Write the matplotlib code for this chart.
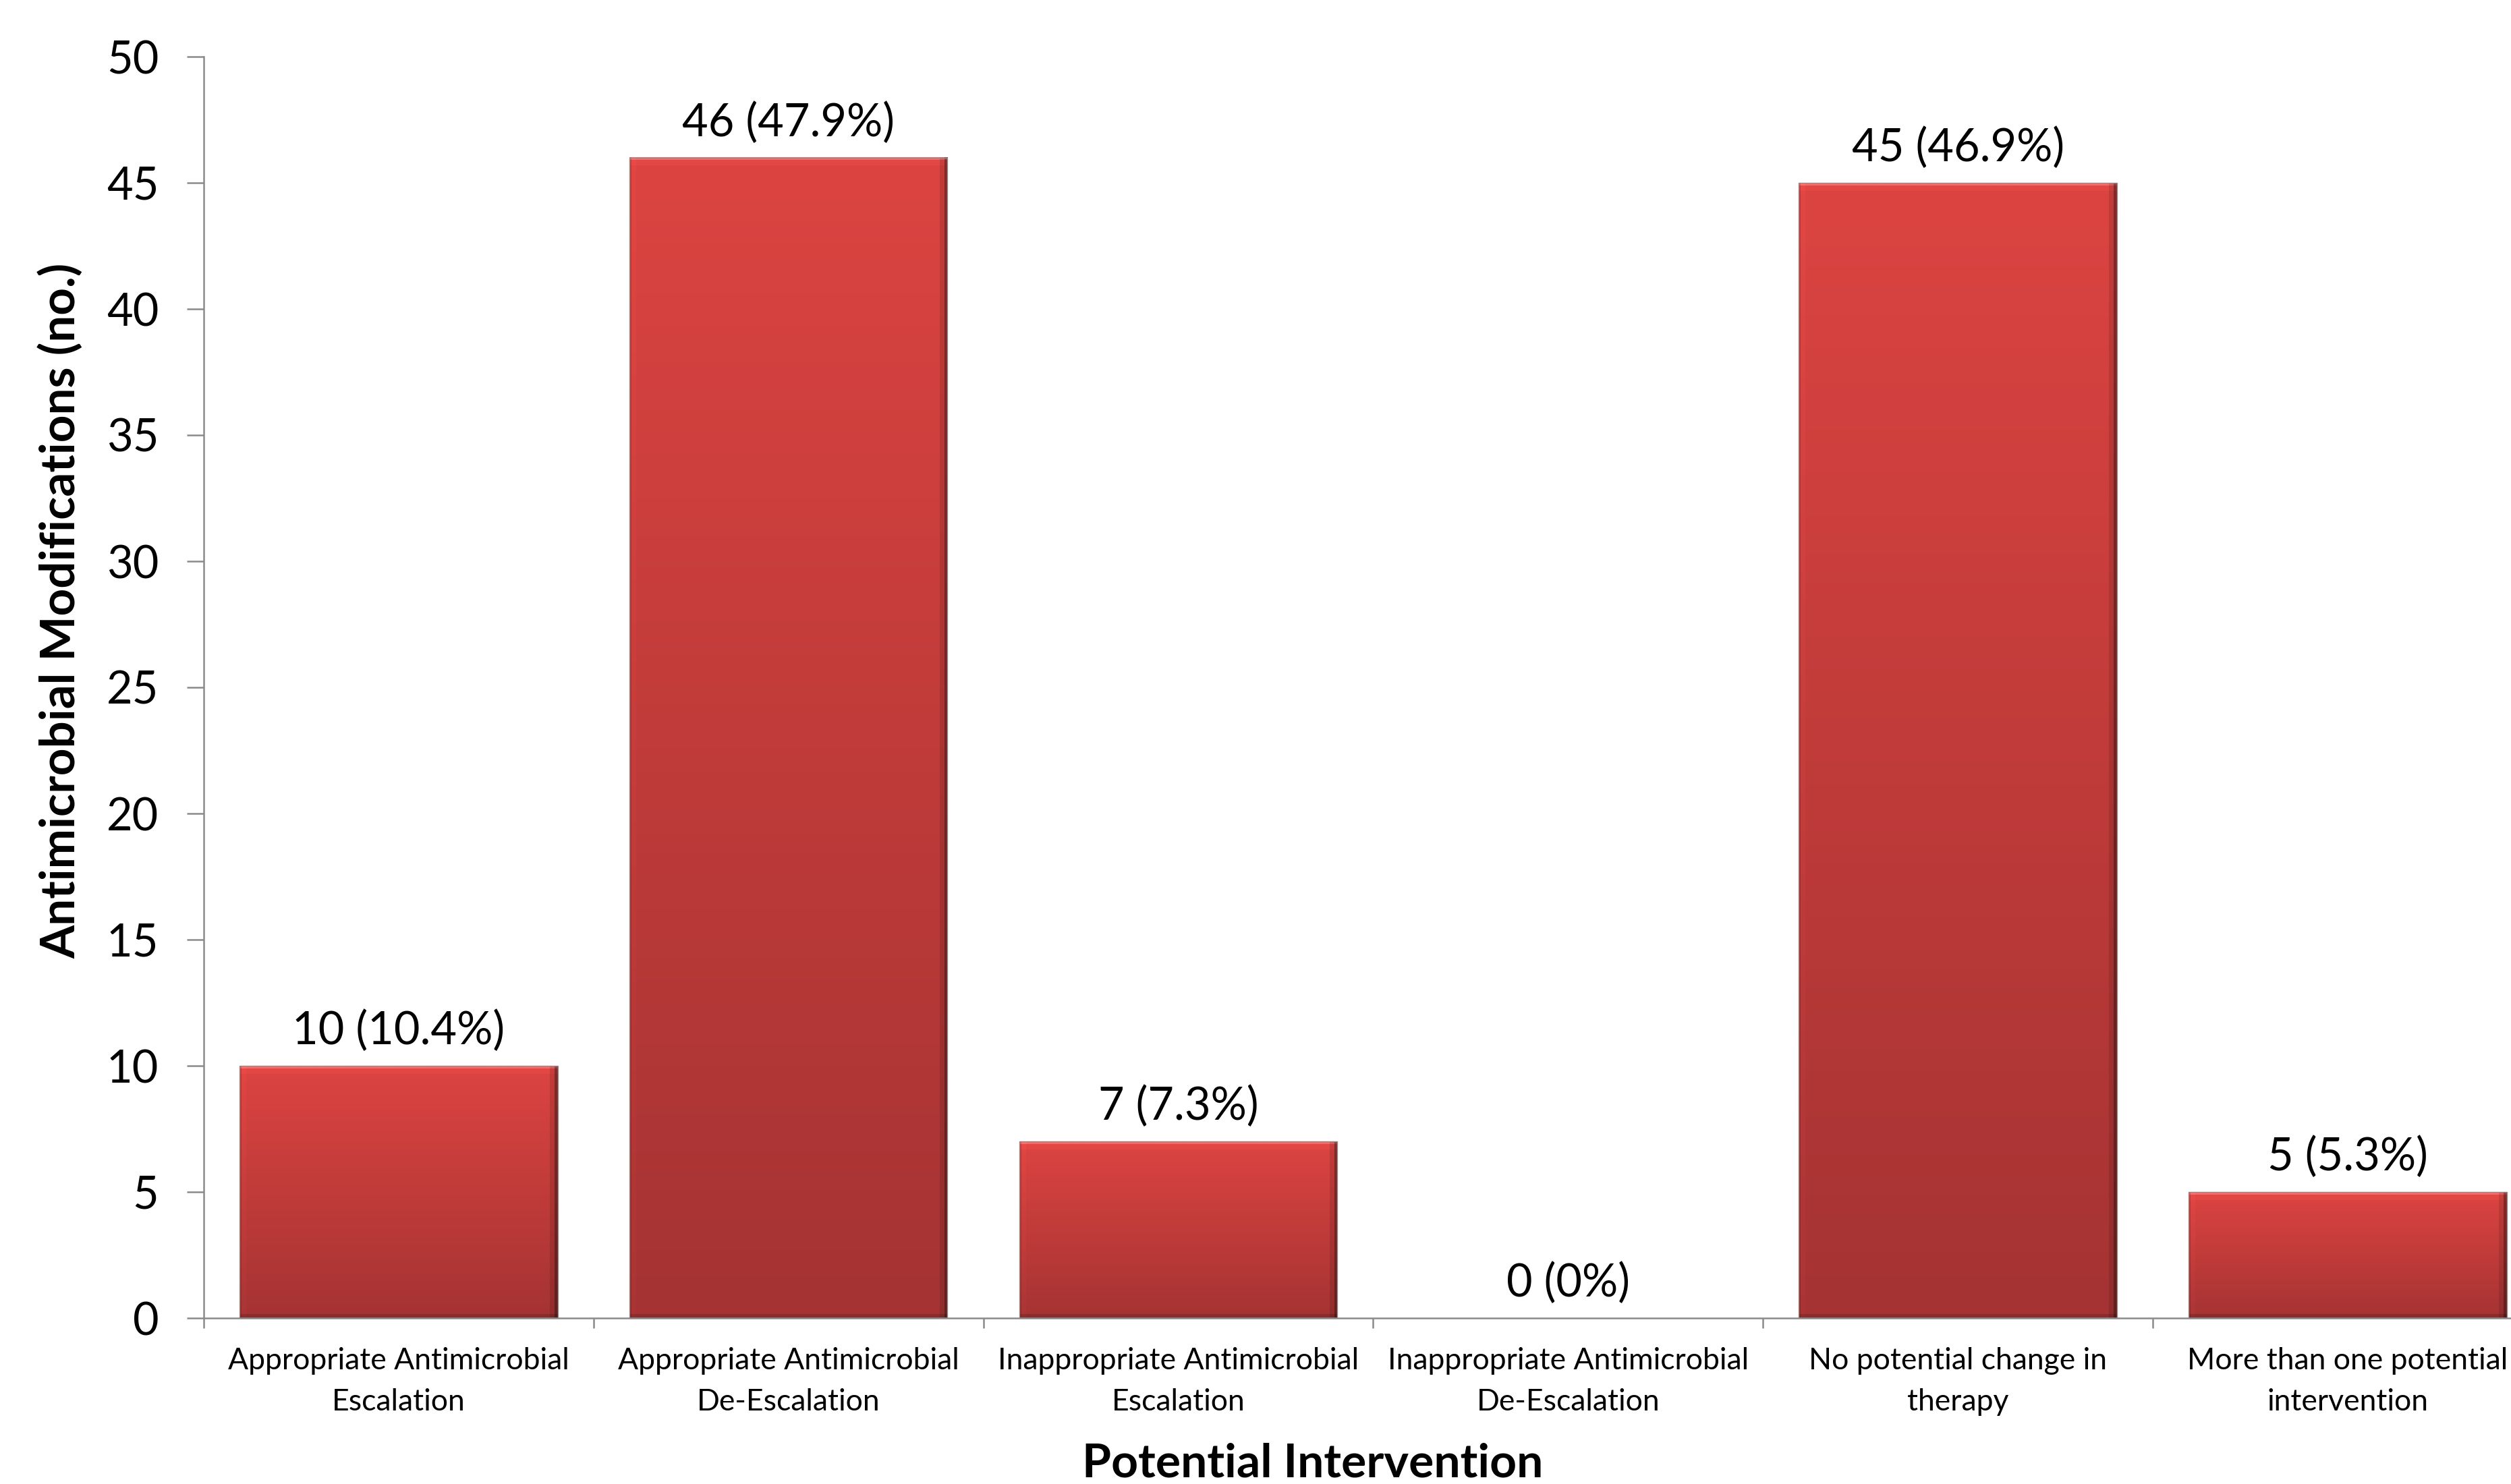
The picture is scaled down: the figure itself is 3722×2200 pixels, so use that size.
import numpy as np
import matplotlib
matplotlib.use("Agg")
import matplotlib.pyplot as plt

categories = [
    "Appropriate Antimicrobial\nEscalation",
    "Appropriate Antimicrobial\nDe-Escalation",
    "Inappropriate Antimicrobial\nEscalation",
    "Inappropriate Antimicrobial\nDe-Escalation",
    "No potential change in\ntherapy",
    "More than one potential\nintervention",
]
counts = [10, 46, 7, 0, 45, 5]
percent_labels = ["10 (10.4%)", "46 (47.9%)", "7 (7.3%)", "0 (0%)", "45 (46.9%)", "5 (5.3%)"]
y_ticks = [0, 5, 10, 15, 20, 25, 30, 35, 40, 45, 50]

FONT = "Lato"
plt.rcParams["font.family"] = [FONT, "DejaVu Sans"]

W, H, DPI = 3722, 2200, 100
fig = plt.figure(figsize=(W / DPI, H / DPI), dpi=DPI)
ax_left, ax_bottom = 302 / W, (H - 1954) / H
ax_w, ax_h = 6 * 577.8 / W, (1954 - 84) / H
ax = fig.add_axes([ax_left, ax_bottom, ax_w, ax_h])

x = np.arange(len(counts))
bar_w = 0.816
bars = ax.bar(x, counts, width=bar_w, color="none", edgecolor="none", zorder=2)
ax.set_xlim(-0.5, len(counts) - 0.5)
ax.set_ylim(0, 50)

top_col = np.array([220, 68, 65]) / 255
bot_col = np.array([165, 51, 51]) / 255
px_per_unit = 1870 / 50.0
bar_px = bar_w * 577.8

for b in bars:
    h = b.get_height()
    if h <= 0:
        continue
    rows = max(int(round(h * px_per_unit)), 2)
    cols = int(round(bar_px))
    t = np.linspace(0, 1, rows)[:, None, None]
    img = top_col * (1 - t) + bot_col * t
    img = np.repeat(img, cols, axis=1).copy()
    # bevel: top highlight, left light edge, right dark edge, bottom dark
    img[0:4, :, :] = np.array([240, 110, 108]) / 255
    img[4:12, :, :] = img[4:12, :, :] * 0.5 + np.array([235, 75, 72]) / 255 * 0.5
    img[:, 0:3, :] = img[:, 0:3, :] * 0.85
    img[:, 3:10, :] = np.clip(img[:, 3:10, :] * 1.03, 0, 1)
    img[:, -5:, :] = img[:, -5:, :] * 0.6
    img[:, -12:-5, :] = img[:, -12:-5, :] * 0.88
    img[-6:, :, :] = img[-6:, :, :] * 0.85
    x0 = b.get_x()
    ax.imshow(img, extent=[x0, x0 + b.get_width(), 0, h], aspect="auto",
              interpolation="bilinear", zorder=2)
    ax.add_patch(plt.Rectangle((x0, 0), b.get_width(), h, fill=False,
                               edgecolor="#9a8a8a", linewidth=1.0, zorder=3))

ax.set_aspect("auto")
ax.set_xlim(-0.5, len(counts) - 0.5)
ax.set_ylim(0, 50)

for xi, c, lab in zip(x, counts, percent_labels):
    ax.annotate(lab, xy=(xi, c), xytext=(0, 37), textcoords="offset points",
                ha="center", va="center", fontsize=48, color="black", zorder=4)

for s in ["top", "right"]:
    ax.spines[s].set_visible(False)
for s in ["left", "bottom"]:
    ax.spines[s].set_color("#8a8a8a")
    ax.spines[s].set_linewidth(1.8)

ax.set_yticks(y_ticks)
ax.set_yticklabels([str(v) for v in y_ticks])
ax.tick_params(axis="y", direction="out", length=18, width=1.8, color="#8a8a8a",
               labelsize=48, pad=30)

ax.set_xticks(x)
ax.set_xticklabels(categories, fontsize=32, linespacing=1.6)
ax.tick_params(axis="x", which="major", length=0, pad=31)
ax.set_xticks(np.arange(-0.5, len(counts), 1.0), minor=True)
ax.tick_params(axis="x", which="minor", direction="out", length=11, width=1.8,
               color="#8a8a8a")

fig.text(90 / W, 1 - 905 / H, "Antimicrobial Modifications (no.)", rotation=90,
         ha="center", va="center", fontsize=51, fontweight="bold")
fig.text(1946 / W, 1 - 2170 / H, "Potential Intervention", ha="center",
         va="center", fontsize=50, fontweight="bold")

fig.savefig("out.png", dpi=DPI, facecolor="white")
